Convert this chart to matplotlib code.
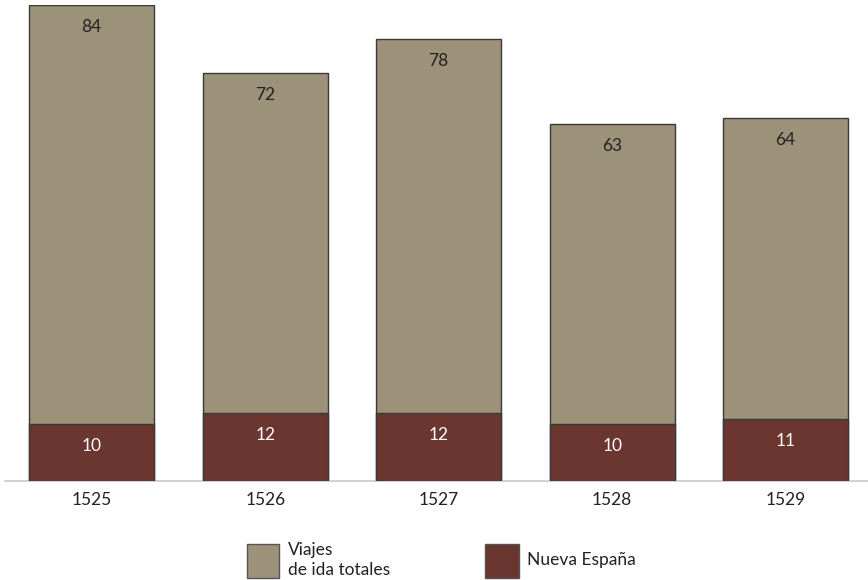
import matplotlib
matplotlib.use("Agg")
import matplotlib.pyplot as plt
from matplotlib.patches import Rectangle
from matplotlib.transforms import offset_copy

years = ["1525", "1526", "1527", "1528", "1529"]
totales = [84, 72, 78, 63, 64]
nueva_espana = [10, 12, 12, 10, 11]
legend_labels = ["Viajes\nde ida totales", "Nueva España"]

c_tot = "#9C927A"
c_ne = "#6B3530"
edge = "#3a3a3a"

plt.rcParams['font.family'] = ['Lato', 'DejaVu Sans']

W, H = 868, 580
fig = plt.figure(figsize=(W / 100, H / 100), dpi=100)
ax = fig.add_axes([5 / W, (580 - 481) / H, (868 - 5) / W, 476 / H])

x = list(range(len(years)))
ax.bar(x, totales, width=0.72, color=c_tot, edgecolor=edge, linewidth=1, zorder=2)
ax.bar(x, nueva_espana, width=0.72, color=c_ne, edgecolor=edge, linewidth=1, zorder=3)

ax.set_xlim(-0.5, 4.475)
ax.set_ylim(0, 84)

tr_lab = offset_copy(ax.transData, fig=fig, x=0, y=-22, units='dots')
for xi, v in zip(x, totales):
    ax.text(xi, v, str(v), transform=tr_lab, ha='center', va='center',
            fontsize=12.5, color='#222222', zorder=4)
for xi, v in zip(x, nueva_espana):
    ax.text(xi, v, str(v), transform=tr_lab, ha='center', va='center',
            fontsize=12.5, color='white', zorder=4)

for s in ['top', 'right', 'left']:
    ax.spines[s].set_visible(False)
ax.spines['bottom'].set_color('#c8c8c8')
ax.spines['bottom'].set_linewidth(1.2)
ax.set_yticks([])
ax.set_xticks(x)
ax.set_xticklabels(years, fontsize=12.5, color='#222222')
ax.tick_params(axis='x', length=0, pad=8)

# Legend
def px(xp, yp):
    return xp / W, 1 - yp / H

for (x0, y0, x1, y1), col, lab, tx in [
    ((247, 544, 279, 578), c_tot, legend_labels[0], 288),
    ((485, 544, 519, 578), c_ne, legend_labels[1], 527),
]:
    fx, fy = px(x0, y1)
    fig.add_artist(Rectangle((fx, fy), (x1 - x0) / W, (y1 - y0) / H,
                             transform=fig.transFigure, facecolor=col,
                             edgecolor='#555555', linewidth=1))
    fig.text(tx / W, 1 - 560 / H, lab, ha='left', va='center', fontsize=12.5,
             color='#222222', linespacing=1.25)

fig.savefig("out.png", dpi=100)
